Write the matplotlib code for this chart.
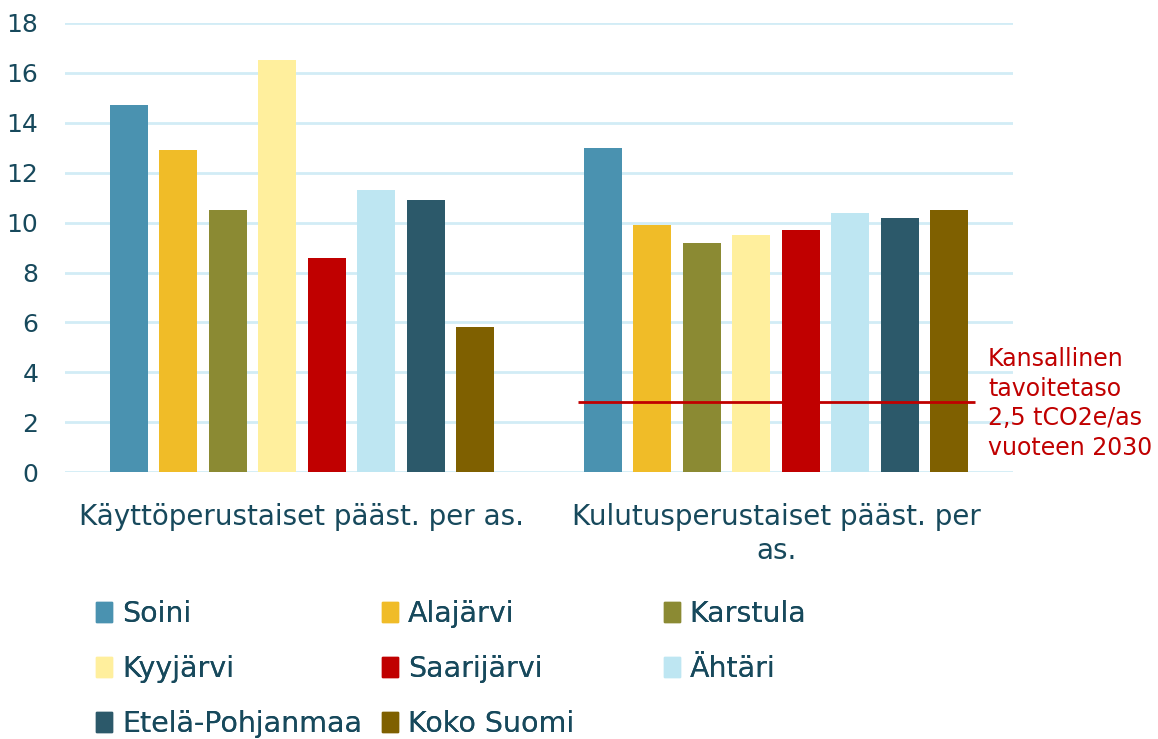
import numpy as np
import matplotlib.pyplot as plt
from matplotlib.patches import Patch

# Päästöt per asukas (tCO2e/as)
categories = ["Käyttöperustaiset pääst. per as.", "Kulutusperustaiset pääst. per\nas."]
series = ["Soini", "Alajärvi", "Karstula", "Kyyjärvi", "Saarijärvi", "Ähtäri",
          "Etelä-Pohjanmaa", "Koko Suomi"]
kaytto = [14.7, 12.9, 10.5, 16.5, 8.6, 11.3, 10.9, 5.8]
kulutus = [13.0, 9.9, 9.2, 9.5, 9.7, 10.4, 10.2, 10.5]
target = 2.8
target_label = "Kansallinen\ntavoitetaso\n2,5 tCO2e/as\nvuoteen 2030"
yticks = [0, 2, 4, 6, 8, 10, 12, 14, 16, 18]

colors = ["#4A92B0", "#F0BC28", "#8B8A33", "#FFEF9D", "#C00000", "#BEE6F2",
          "#2C596A", "#7F6000"]
text_col = "#17495C"

plt.rcParams['font.family'] = ['DejaVu Sans']

fig = plt.figure(figsize=(11.58, 7.39), dpi=100)
ax = fig.add_axes([0.056, 0.361, 0.819, 0.608])

x = np.arange(len(categories))
width = 0.08
step = 0.1044
values = np.array([kaytto, kulutus])
for i, name in enumerate(series):
    offs = (i - (len(series) - 1) / 2) * step
    ax.bar(x + offs, values[:, i], width, color=colors[i], zorder=3)

# tavoitetaso
ax.hlines(target, 0.582, 1.42, color="#C00000", lw=2, zorder=4)
ax.text(1.447, 2.75, target_label, color="#C00000", fontsize=17,
        ha="left", va="center", linespacing=1.3, clip_on=False)

ax.set_xlim(-0.5, 1.5)
ax.set_ylim(0, 18)
ax.set_yticks(yticks)
ax.set_xticks(x)
ax.set_xticklabels(categories, fontsize=20, color=text_col, linespacing=1.3)
ax.tick_params(axis="y", labelsize=18, labelcolor=text_col, length=0, pad=19)
ax.tick_params(axis="x", length=0, pad=22)
ax.grid(axis="y", color="#D2ECF6", lw=2, zorder=0)
for s in ax.spines.values():
    s.set_visible(False)

# legenda: kolme saraketta, täytetään riveittäin
col_x = [0.071, 0.318, 0.561]
for c in range(3):
    idx = list(range(c, len(series), 3))
    handles = [Patch(color=colors[k], label=series[k]) for k in idx]
    leg = fig.legend(handles=handles, loc="upper left", bbox_to_anchor=(col_x[c], 0.208),
                     frameon=False, fontsize=20.5, handlelength=0.55, handleheight=0.7,
                     handletextpad=0.35, labelspacing=0.95, borderpad=0,
                     labelcolor=text_col)
    fig.add_artist(leg)

plt.savefig("out.png", dpi=100)
